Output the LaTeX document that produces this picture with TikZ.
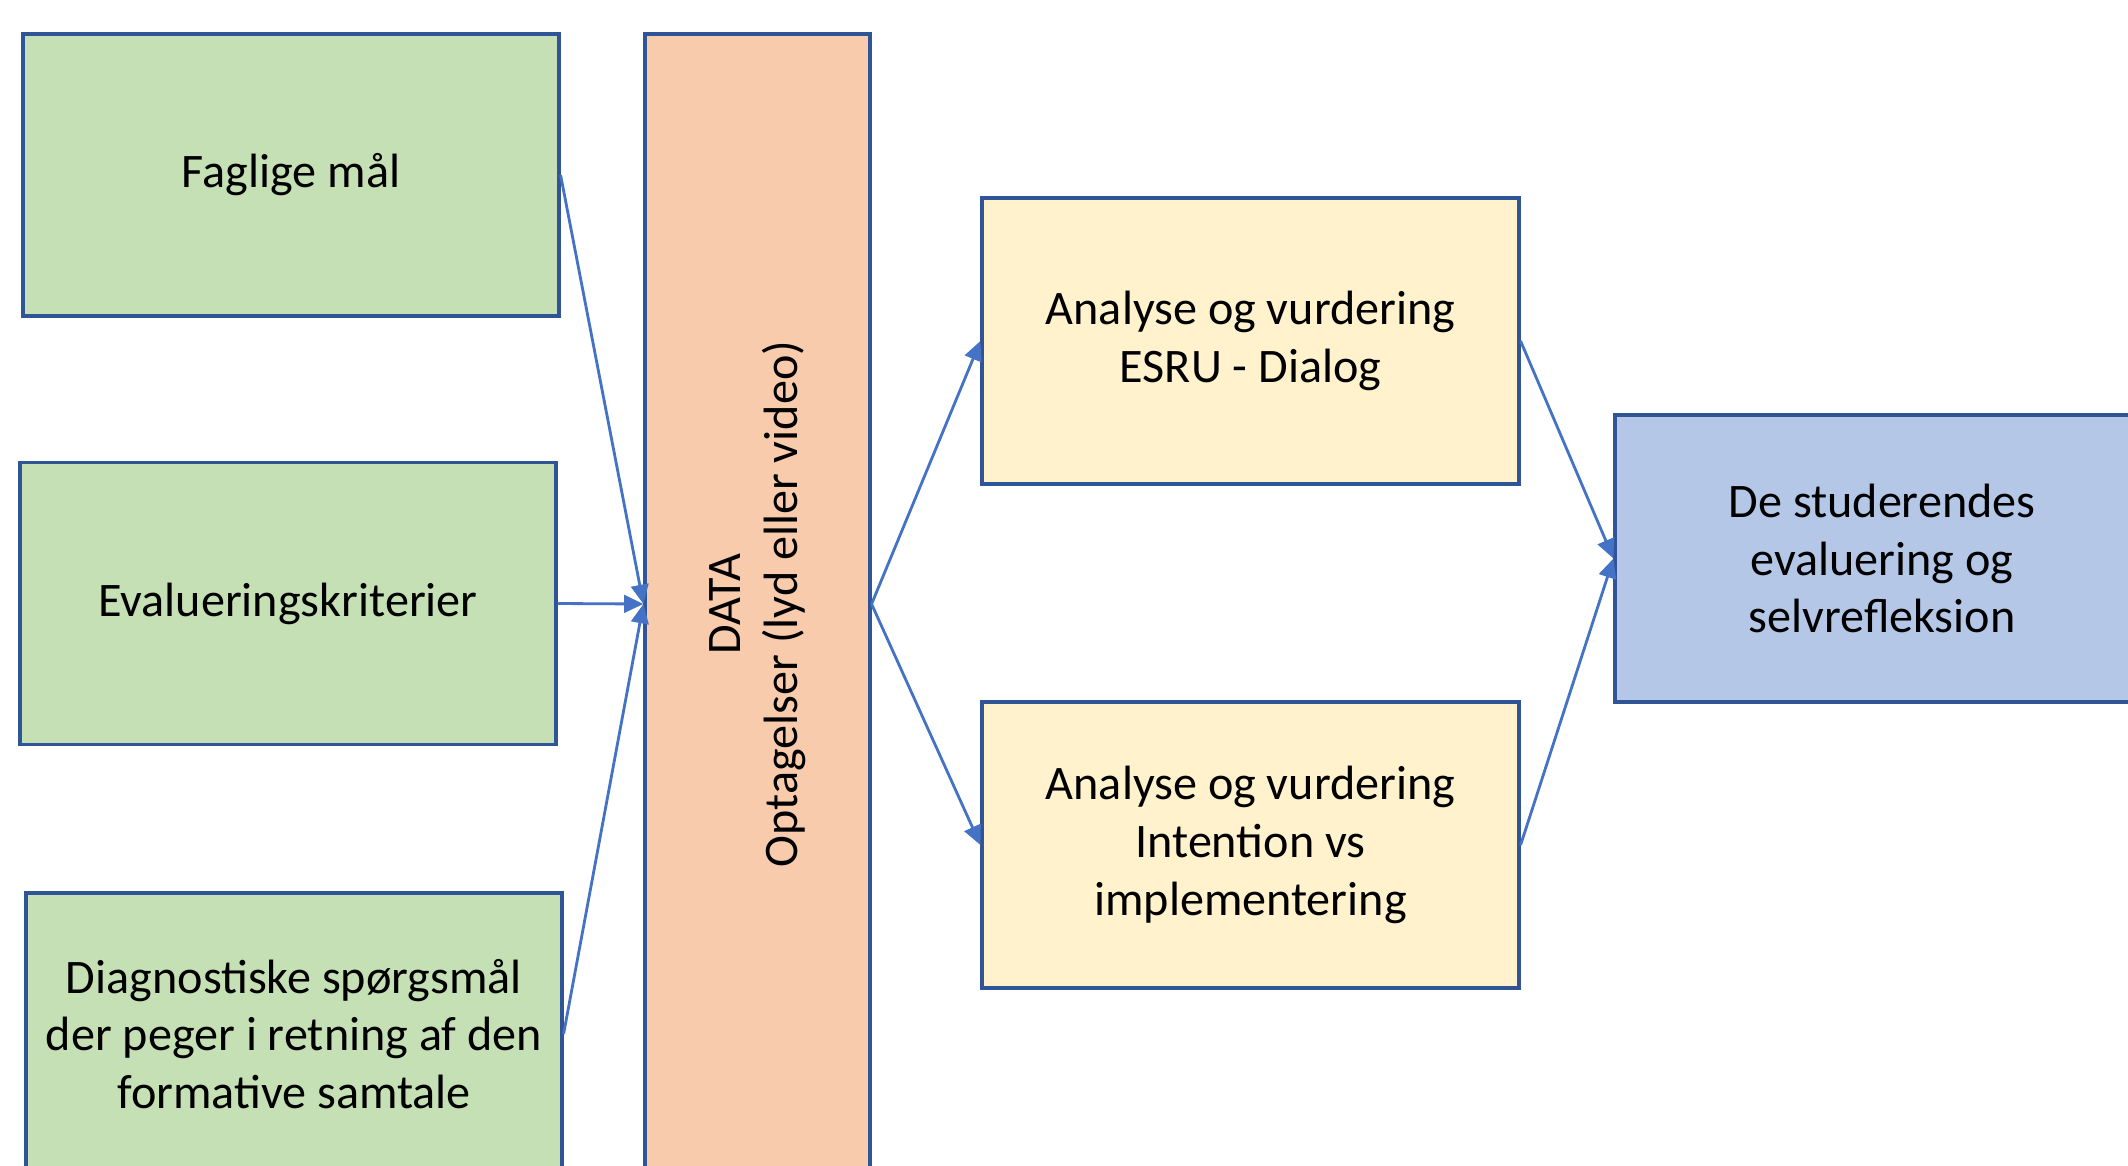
\documentclass[tikz,border=0pt]{standalone}
\usepackage{fontspec}
\setmainfont{Carlito}
\usetikzlibrary{positioning}
\usetikzlibrary{arrows.meta}

\definecolor{boxline}{HTML}{2F5597}
\definecolor{arrowblue}{HTML}{4472C4}
\definecolor{greenfill}{HTML}{C5E0B4}
\definecolor{datafill}{HTML}{F8CBAD}
\definecolor{yellowfill}{HTML}{FFF2CC}
\definecolor{bluefill}{HTML}{B4C7E7}

\begin{document}
\begin{tikzpicture}[>={Triangle[length=5.5pt,width=5pt]},
             input/.style={draw=boxline, line width=0.9pt, fill=greenfill,
                minimum width=5.36cm, minimum height=2.82cm, align=center,
                font=\fontsize{13.7}{16.4}\selectfont},
             data/.style={draw=boxline, line width=0.9pt, fill=datafill, rotate=90,
                minimum width=11.4cm, minimum height=2.25cm, align=center,
                font=\fontsize{13.7}{16.4}\selectfont},
             analysis/.style={draw=boxline, line width=0.9pt, fill=yellowfill,
                minimum width=5.37cm, minimum height=2.86cm, align=center,
                font=\fontsize{13.7}{16.4}\selectfont},
             result/.style={draw=boxline, line width=0.9pt, fill=bluefill,
                minimum width=5.34cm, minimum height=2.87cm, align=center,
                font=\fontsize{13.7}{16.4}\selectfont},
             connections/.style={->,draw=arrowblue,line width=0.8pt},
          ]

          \useasboundingbox (0,0) rectangle (21.28,11.65);
          \clip (0,0) rectangle (21.28,11.65);

          \node at (2.91,9.90) (goals) [input]  {Faglige mål};
          \node at (2.88,5.615) (criteria) [input]  {Evalueringskriterier};
          \node at (2.94,1.31) (questions) [input]  {Diagnostiske spørgsmål\\der peger i retning af den\\formative samtale};
          % rotated: north is the left side, south the right side
          \node at (7.575,5.61) (data) [data]  {DATA\\Optagelser (lyd eller video)};
          \node at (12.505,8.24) (esru) [analysis]  {Analyse og vurdering\\ESRU - Dialog};
          \node at (12.505,3.20) (intention) [analysis]  {Analyse og vurdering\\Intention vs\\implementering};
          \node at (18.82,6.065) (reflection) [result]  {De studerendes\\evaluering og\\selvrefleksion};

          \draw[connections] (goals.east) -- (data.north) ;
          \draw[connections] (criteria.east) -- (data.north) ;
          \draw[connections] (questions.east) -- (data.north) ;
          \draw[connections] (data.south) -- (esru.west) ;
          \draw[connections] (data.south) -- (intention.west) ;
          \draw[connections] (esru.east) -- (reflection.west) ;
          \draw[connections] (intention.east) -- (reflection.west) ;

       \end{tikzpicture}
\end{document}
